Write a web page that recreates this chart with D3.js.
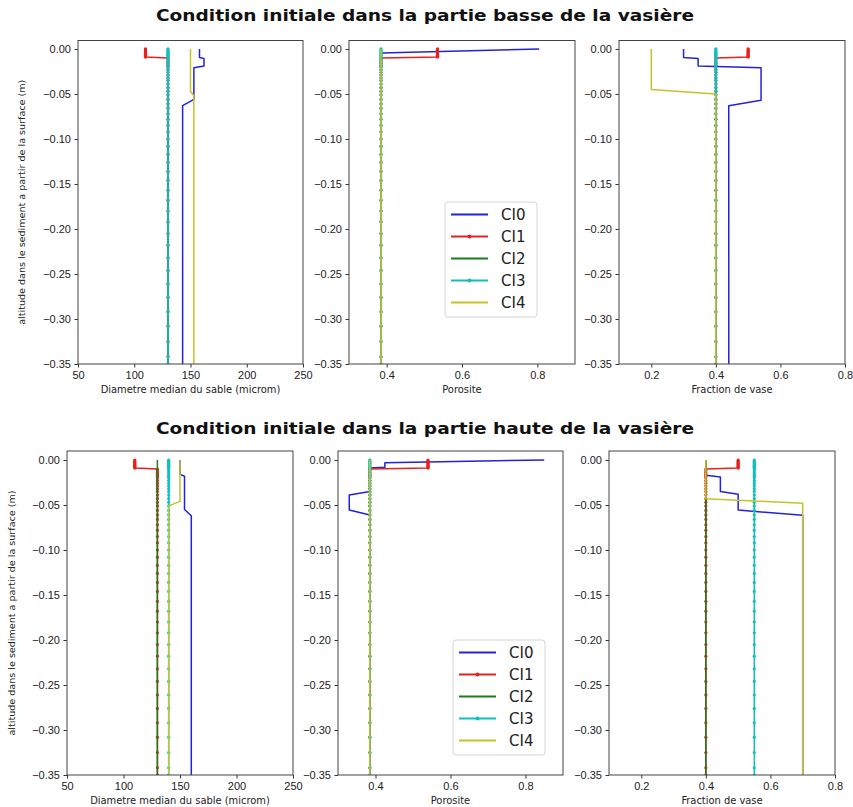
<!DOCTYPE html>
<html>
<head>
<meta charset="utf-8">
<script src="https://d3js.org/d3.v7.min.js"></script>
<style>
body { margin: 0; background: #fff; }
svg { display: block; font-family: "DejaVu Sans", sans-serif; }
.tick text { font-size: 11px; fill: #222; }
.tick line { stroke: #333; }
.xlabel { font-family: "DejaVu Sans Condensed", "DejaVu Sans", sans-serif; font-size: 11px; fill: #222; }
.ylabel { font-family: "DejaVu Sans Condensed", "DejaVu Sans", sans-serif; font-size: 9.5px; fill: #222; }
.title { font-weight: bold; font-size: 16px; fill: #111; }
.legend text { font-size: 15px; fill: #222; }
</style>
</head>
<body>
<div id="chart"></div>
<script>
var layerDepth = [0, -0.001, -0.002, -0.003, -0.004, -0.005, -0.006, -0.007, -0.008, -0.009,
    -0.010, -0.012, -0.014, -0.016, -0.018, -0.020, -0.023, -0.026, -0.029, -0.032, -0.035,
    -0.039, -0.043, -0.047, -0.051, -0.056, -0.061, -0.066, -0.072, -0.078, -0.085, -0.092,
    -0.100, -0.108, -0.117, -0.126, -0.136, -0.146, -0.157, -0.168, -0.180, -0.192, -0.205,
    -0.218, -0.232, -0.246, -0.261, -0.276, -0.292, -0.308, -0.325, -0.342, -0.350];

var seriesNames = ['CI0', 'CI1', 'CI2', 'CI3', 'CI4'];
var seriesColors = ['#2222dd', '#e8201c', '#1b7d1b', '#10c0c0', '#c4c428'];
var seriesMarkers = [false, true, false, true, false];

var depthTicks = [0, -0.05, -0.10, -0.15, -0.20, -0.25, -0.30, -0.35];
var diamTicks = [50, 100, 150, 200, 250];
var poroTicks = [0.4, 0.6, 0.8];
var vaseTicks = [0.2, 0.4, 0.6, 0.8];

var xLabels = ['Diametre median du sable (microm)', 'Porosite', 'Fraction de vase'];
var xDomains = [[50, 250], [0.3, 0.9], [0.1, 0.8]];

// CI0, CI2, CI4 : points [valeur, profondeur]
// CI1, CI3 : [valeur, nombre de couches] sur layerDepth

// partie basse
var basseDiamCI0 = [[158, 0], [158, -0.0095], [162, -0.0105], [162, -0.019], [153, -0.021], [153, -0.056], [143, -0.063], [143, -0.35]];
var basseDiamCI1 = [[110, 10], [130, 43]];
var basseDiamCI2 = [[130, 0], [130, -0.35]];
var basseDiamCI3 = [[130, 53]];
var basseDiamCI4 = [[150, 0], [150, -0.047], [153, -0.052], [153, -0.35]];

var bassePoroCI0 = [[0.805, 0], [0.385, -0.0045], [0.385, -0.35]];
var bassePoroCI1 = [[0.535, 10], [0.385, 43]];
var bassePoroCI2 = [[0.385, 0], [0.385, -0.35]];
var bassePoroCI3 = [[0.385, 53]];
var bassePoroCI4 = [[0.385, 0], [0.385, -0.35]];

var basseVaseCI0 = [[0.30, 0], [0.30, -0.0095], [0.345, -0.0105], [0.345, -0.019], [0.54, -0.021], [0.54, -0.057], [0.44, -0.063], [0.44, -0.35]];
var basseVaseCI1 = [[0.5, 10], [0.4, 43]];
var basseVaseCI2 = [[0.4, 0], [0.4, -0.35]];
var basseVaseCI3 = [[0.4, 53]];
var basseVaseCI4 = [[0.2, 0], [0.2, -0.045], [0.4, -0.050], [0.4, -0.35]];

// partie haute
var hauteDiamCI0 = [[150, 0], [150, -0.016], [154, -0.018], [154, -0.055], [160, -0.062], [160, -0.35]];
var hauteDiamCI1 = [[110, 10], [130, 43]];
var hauteDiamCI2 = [[130, 0], [130, -0.35]];
var hauteDiamCI3 = [[140, 53]];
var hauteDiamCI4 = [[150, 0], [150, -0.046], [140, -0.051], [140, -0.35]];

var hautePoroCI0 = [[0.85, 0], [0.425, -0.003], [0.425, -0.008], [0.385, -0.009], [0.385, -0.035], [0.33, -0.039], [0.33, -0.0555], [0.385, -0.061], [0.385, -0.35]];
var hautePoroCI1 = [[0.54, 10], [0.385, 43]];
var hautePoroCI2 = [[0.385, 0], [0.385, -0.35]];
var hautePoroCI3 = [[0.385, 53]];
var hautePoroCI4 = [[0.385, 0], [0.385, -0.35]];

var hauteVaseCI0 = [[0.4, 0], [0.4, -0.017], [0.445, -0.019], [0.445, -0.035], [0.5, -0.038], [0.5, -0.0556], [0.7, -0.0615], [0.7, -0.35]];
var hauteVaseCI1 = [[0.5, 10], [0.4, 43]];
var hauteVaseCI2 = [[0.4, 0], [0.4, -0.35]];
var hauteVaseCI3 = [[0.55, 53]];
var hauteVaseCI4 = [[0.4, 0], [0.4, -0.043], [0.7, -0.048], [0.7, -0.35]];

var rows = [
  {title: 'Condition initiale dans la partie basse de la vasi\u00e8re', titleY: 21, top: 40.5, bottom: 364, yTop: 0.0094,
   ylabelX: 22, xs: [[78, 303], [349, 575], [619, 845]], legend: [445, 202],
   panels: [[basseDiamCI0, basseDiamCI1, basseDiamCI2, basseDiamCI3, basseDiamCI4],
            [bassePoroCI0, bassePoroCI1, bassePoroCI2, bassePoroCI3, bassePoroCI4],
            [basseVaseCI0, basseVaseCI1, basseVaseCI2, basseVaseCI3, basseVaseCI4]]},
  {title: 'Condition initiale dans la partie haute de la vasi\u00e8re', titleY: 434, top: 451, bottom: 775, yTop: 0.01,
   ylabelX: 12, xs: [[67, 293], [338, 563], [609, 835]], legend: [453, 640],
   panels: [[hauteDiamCI0, hauteDiamCI1, hauteDiamCI2, hauteDiamCI3, hauteDiamCI4],
            [hautePoroCI0, hautePoroCI1, hautePoroCI2, hautePoroCI3, hautePoroCI4],
            [hauteVaseCI0, hauteVaseCI1, hauteVaseCI2, hauteVaseCI3, hauteVaseCI4]]}
];

var xTicks = [diamTicks, poroTicks, vaseTicks];
var xFormats = [d3.format('d'), d3.format('.1f'), d3.format('.1f')];

// valeurs par couche -> points
function layers(runs) {
  var out = [], i = 0;
  runs.forEach(function(r) {
    for (var k = 0; k < r[1]; k++) { out.push([r[0], layerDepth[i]]); i++; }
  });
  return out;
}

var svg = d3.select('#chart').append('svg')
    .attr('width', 853)
    .attr('height', 807);

rows.forEach(function(row) {
  svg.append('text')
      .attr('class', 'title')
      .attr('x', 425)
      .attr('y', row.titleY)
      .attr('text-anchor', 'middle')
      .attr('textLength', 538)
      .attr('lengthAdjust', 'spacingAndGlyphs')
      .text(row.title);

  var y = d3.scaleLinear()
      .domain([-0.35, row.yTop])
      .range([row.bottom, row.top]);

  svg.append('text')
      .attr('class', 'ylabel')
      .attr('transform', 'translate(' + row.ylabelX + ',' + (row.top + row.bottom) / 2 + ') rotate(-90)')
      .attr('text-anchor', 'middle')
      .attr('dy', '0.35em')
      .attr('textLength', 245)
      .attr('lengthAdjust', 'spacingAndGlyphs')
      .text('altitude dans le sediment a partir de la surface (m)');

  row.panels.forEach(function(series, p) {
    var x = d3.scaleLinear()
        .domain(xDomains[p])
        .range(row.xs[p]);

    var g = svg.append('g');

    var clipId = 'clip' + row.titleY + '_' + p;
    g.append('clipPath').attr('id', clipId)
      .append('rect')
        .attr('x', row.xs[p][0])
        .attr('y', row.top)
        .attr('width', row.xs[p][1] - row.xs[p][0])
        .attr('height', row.bottom - row.top);

    var yAxis = g.append('g')
        .attr('transform', 'translate(' + row.xs[p][0] + ',0)')
        .call(d3.axisLeft(y).tickValues(depthTicks).tickFormat(d3.format('.2f'))
            .tickSizeInner(3.5).tickSizeOuter(0).tickPadding(3.5));
    yAxis.select('.domain').remove();

    var xAxis = g.append('g')
        .attr('transform', 'translate(0,' + row.bottom + ')')
        .call(d3.axisBottom(x).tickValues(xTicks[p]).tickFormat(xFormats[p])
            .tickSizeInner(3.5).tickSizeOuter(0).tickPadding(3.5));
    xAxis.select('.domain').remove();

    g.append('text')
        .attr('class', 'xlabel')
        .attr('x', (row.xs[p][0] + row.xs[p][1]) / 2)
        .attr('y', row.bottom + 29)
        .attr('text-anchor', 'middle')
        .text(xLabels[p]);

    var line = d3.line()
        .x(function(d) { return x(d[0]); })
        .y(function(d) { return y(d[1]); });

    var plot = g.append('g').attr('clip-path', 'url(#' + clipId + ')');

    series.forEach(function(s, i) {
      var pts = seriesMarkers[i] ? layers(s) : s;
      plot.append('path')
          .datum(pts)
          .attr('fill', 'none')
          .attr('stroke', seriesColors[i])
          .attr('stroke-width', 1.5)
          .attr('stroke-linejoin', 'round')
          .attr('d', line);
      if (seriesMarkers[i]) {
        plot.append('g').selectAll('circle')
          .data(pts)
          .enter().append('circle')
            .attr('cx', function(d) { return x(d[0]); })
            .attr('cy', function(d) { return y(d[1]); })
            .attr('r', 1.6)
            .attr('fill', seriesColors[i]);
      }
    });

    g.append('rect')
        .attr('x', row.xs[p][0])
        .attr('y', row.top)
        .attr('width', row.xs[p][1] - row.xs[p][0])
        .attr('height', row.bottom - row.top)
        .attr('fill', 'none')
        .attr('stroke', '#444')
        .attr('stroke-width', 1);
  });

  // legende
  var lg = svg.append('g')
      .attr('class', 'legend')
      .attr('transform', 'translate(' + row.legend[0] + ',' + row.legend[1] + ')');

  lg.append('rect')
      .attr('width', 92)
      .attr('height', 115)
      .attr('rx', 3)
      .attr('fill', '#fff')
      .attr('fill-opacity', 0.85)
      .attr('stroke', '#d4d4d4');

  var item = lg.selectAll('g.item')
    .data(seriesNames)
    .enter().append('g')
      .attr('class', 'item')
      .attr('transform', function(d, i) { return 'translate(0,' + (12.5 + i * 22) + ')'; });

  item.append('line')
      .attr('x1', 6)
      .attr('x2', 43)
      .attr('stroke', function(d, i) { return seriesColors[i]; })
      .attr('stroke-width', 1.8);

  item.filter(function(d, i) { return seriesMarkers[i]; })
    .append('circle')
      .attr('cx', 24.5)
      .attr('r', 2)
      .attr('fill', function(d) { return seriesColors[seriesNames.indexOf(d)]; });

  item.append('text')
      .attr('x', 56)
      .attr('dy', '0.36em')
      .text(function(d) { return d; });
});
</script>
</body>
</html>
